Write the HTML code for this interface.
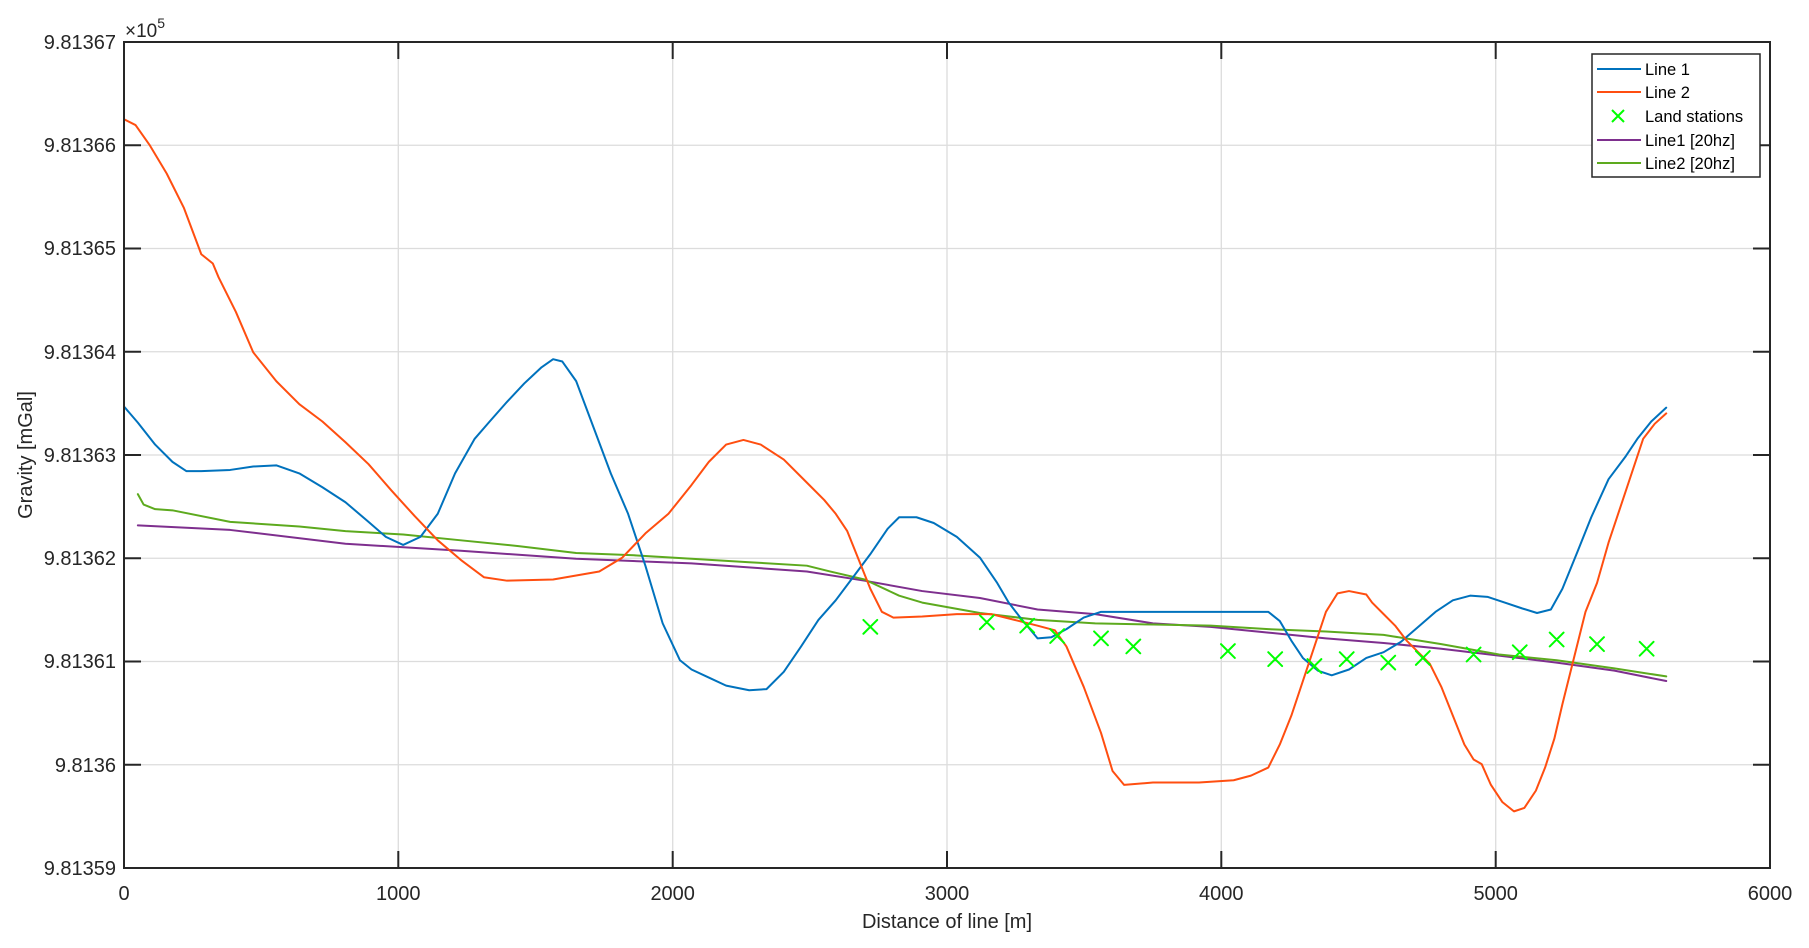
<!DOCTYPE html>
<html><head><meta charset="utf-8"><style>
html,body{margin:0;padding:0;background:#fff;}
svg{display:block;font-family:"Liberation Sans",Arial,sans-serif;}
</style></head><body>
<svg width="1809" height="948" viewBox="0 0 1809 948" xmlns="http://www.w3.org/2000/svg">
<rect width="1809" height="948" fill="#fff"/>
<g stroke="#dcdcdc" stroke-width="1.3">
<line x1="398.3" y1="42" x2="398.3" y2="868"/><line x1="672.7" y1="42" x2="672.7" y2="868"/><line x1="947" y1="42" x2="947" y2="868"/><line x1="1221.3" y1="42" x2="1221.3" y2="868"/><line x1="1495.7" y1="42" x2="1495.7" y2="868"/>
<line x1="124" y1="145.25" x2="1770" y2="145.25"/><line x1="124" y1="248.5" x2="1770" y2="248.5"/><line x1="124" y1="351.75" x2="1770" y2="351.75"/><line x1="124" y1="455" x2="1770" y2="455"/><line x1="124" y1="558.25" x2="1770" y2="558.25"/><line x1="124" y1="661.5" x2="1770" y2="661.5"/><line x1="124" y1="764.75" x2="1770" y2="764.75"/>
</g>
<g stroke="#262626" stroke-width="2">
<path d="M398.3 868v-17M672.7 868v-17M947 868v-17M1221.3 868v-17M1495.7 868v-17M398.3 42v17M672.7 42v17M947 42v17M1221.3 42v17M1495.7 42v17"/>
<path d="M124 145.25h17M124 248.5h17M124 351.75h17M124 455h17M124 558.25h17M124 661.5h17M124 764.75h17M1770 145.25h-17M1770 248.5h-17M1770 351.75h-17M1770 455h-17M1770 558.25h-17M1770 661.5h-17M1770 764.75h-17"/>
</g>
<g transform="translate(124,42) scale(1.1535) translate(-108,-36)" fill="none" stroke-width="2" stroke-linejoin="round" stroke-linecap="round">
<polyline vector-effect="non-scaling-stroke" stroke="#7E2F8E" points="120,455 200,459 300,471 400,477 500,484 600,488 700,495 750,503 800,512 850,518 900,528 950,532 1000,540 1050,543 1100,548 1150,553 1200,557 1250,562 1300,568 1350,574 1400,581 1445,590"/>
<polyline vector-effect="non-scaling-stroke" stroke="#5DAA1E" points="120,428 125,437 135,441 150,442 200,452 260,456 300,460 350,463 400,468 450,473 500,479 550,481 600,484 650,487 700,490 720,495 750,502 780,516 800,522 850,531 900,537 950,540 1000,541 1050,542 1100,545 1150,547 1200,550 1250,558 1300,567 1350,572 1400,579 1445,586"/>
<polyline vector-effect="non-scaling-stroke" stroke="#0072BD" points="108,352 120,366 135,385 150,400 162,408 175,408 200,407 220,404 240,403 260,410 280,422 300,435 320,452 335,465 350,472 365,465 380,445 395,410 412,380 425,365 440,348 455,332 470,318 480,311 488,313 500,330 515,370 530,410 545,445 560,490 575,540 590,572 600,580 615,587 630,594 650,598 665,597 680,582 695,560 710,537 725,520 740,500 755,480 770,458 780,448 795,448 810,453 830,465 850,483 865,505 875,522 885,535 900,553 912,552 925,545 940,535 955,530 980,530 1030,530 1080,530 1100,530 1110,538 1120,555 1130,570 1143,581 1155,585 1170,580 1185,570 1200,565 1215,556 1230,543 1245,530 1260,520 1275,516 1290,517 1305,522 1320,527 1333,531 1345,528 1355,510 1368,478 1380,448 1395,415 1410,395 1420,380 1432,365 1445,353"/>
<polyline vector-effect="non-scaling-stroke" stroke="#FF4E10" points="108,103 118,108 130,125 145,150 160,180 175,220 185,228 190,240 205,270 220,305 240,330 260,350 280,365 300,383 320,402 340,425 360,447 380,468 400,485 420,500 440,503 480,502 520,495 540,483 560,462 580,445 600,420 615,400 630,385 645,381 660,385 680,398 700,418 715,433 725,445 735,460 745,485 755,510 765,530 775,535 800,534 830,532 860,532 880,537 900,542 915,546 925,560 940,595 955,635 965,668 975,680 1000,678 1040,678 1070,676 1085,672 1100,665 1110,645 1120,620 1130,590 1140,560 1150,530 1160,514 1170,512 1185,515 1190,522 1200,532 1210,542 1220,555 1230,565 1240,575 1250,595 1260,620 1270,645 1278,658 1285,662 1293,680 1303,695 1313,703 1322,700 1332,685 1340,665 1348,640 1355,610 1365,570 1375,530 1385,505 1395,470 1405,440 1415,410 1425,380 1435,367 1445,358"/>
<g stroke="#00FF00">
<path vector-effect="non-scaling-stroke" d="M749,537l12,12m0,-12l-12,12 M850,533l12,12m0,-12l-12,12 M885,536l12,12m0,-12l-12,12 M911,545l12,12m0,-12l-12,12 M949,547l12,12m0,-12l-12,12 M977,554l12,12m0,-12l-12,12 M1059,558l12,12m0,-12l-12,12 M1100,565l12,12m0,-12l-12,12 M1134,571l12,12m0,-12l-12,12 M1162,565l12,12m0,-12l-12,12 M1198,568l12,12m0,-12l-12,12 M1228,564l12,12m0,-12l-12,12 M1272,561l12,12m0,-12l-12,12 M1312,559l12,12m0,-12l-12,12 M1344,548l12,12m0,-12l-12,12 M1379,552l12,12m0,-12l-12,12 M1422,556l12,12m0,-12l-12,12"/>
</g>
</g>
<rect x="124" y="42" width="1646" height="826" fill="none" stroke="#262626" stroke-width="2"/>
<g fill="#262626" font-size="20">
<g text-anchor="end">
<text x="116" y="49">9.81367</text><text x="116" y="152">9.81366</text><text x="116" y="255">9.81365</text><text x="116" y="359">9.81364</text><text x="116" y="462">9.81363</text><text x="116" y="565">9.81362</text><text x="116" y="668">9.81361</text><text x="116" y="772">9.8136</text><text x="116" y="875">9.81359</text>
</g>
<g text-anchor="middle">
<text x="124" y="900">0</text><text x="398.3" y="900">1000</text><text x="672.7" y="900">2000</text><text x="947" y="900">3000</text><text x="1221.3" y="900">4000</text><text x="1495.7" y="900">5000</text><text x="1770" y="900">6000</text>
<text x="947" y="928">Distance of line [m]</text>
<text transform="translate(32,455) rotate(-90)">Gravity [mGal]</text>
</g>
<text x="125" y="37" font-size="19">×10<tspan dy="-9" font-size="14">5</tspan></text>
</g>
<g>
<rect x="1592" y="54" width="168" height="123" fill="#fff" stroke="#262626" stroke-width="1.5"/>
<line x1="1597" y1="69" x2="1641" y2="69" stroke="#0072BD" stroke-width="2"/>
<line x1="1597" y1="92" x2="1641" y2="92" stroke="#FF4E10" stroke-width="2"/>
<path d="M1612,110l12,12m0,-12l-12,12" stroke="#00FF00" stroke-width="2"/>
<line x1="1597" y1="140" x2="1641" y2="140" stroke="#7E2F8E" stroke-width="2"/>
<line x1="1597" y1="163" x2="1641" y2="163" stroke="#5DAA1E" stroke-width="2"/>
<g font-size="16.5" fill="#000">
<text x="1645" y="75">Line 1</text><text x="1645" y="98">Line 2</text><text x="1645" y="122">Land stations</text><text x="1645" y="146">Line1 [20hz]</text><text x="1645" y="169">Line2 [20hz]</text>
</g>
</g>
</svg>
</body></html>
